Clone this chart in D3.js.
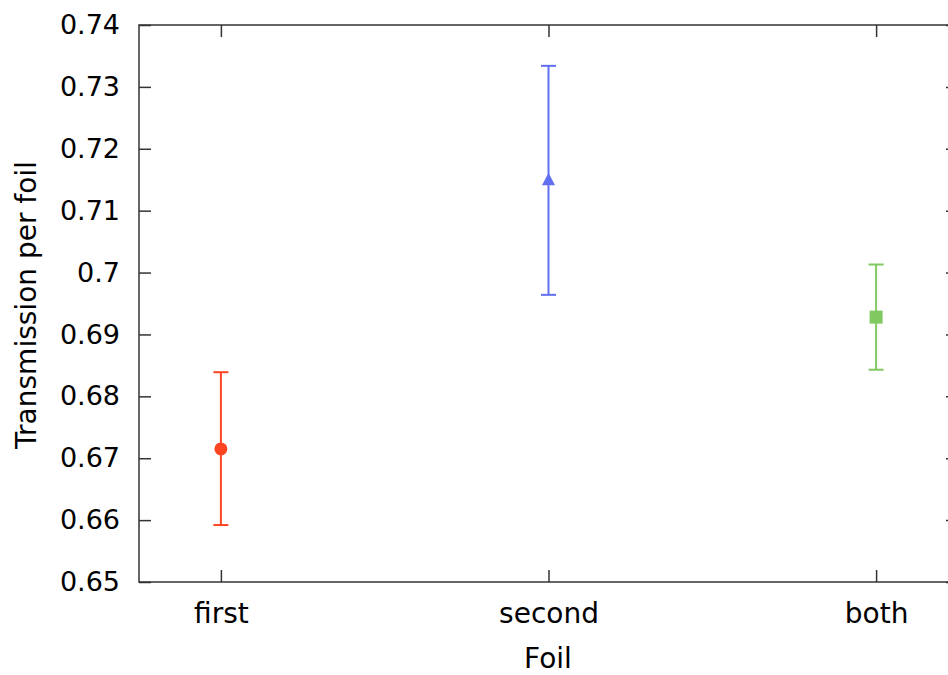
<!DOCTYPE html>
<html>
<head>
<meta charset="utf-8">
<script src="https://cdn.jsdelivr.net/npm/d3@7"></script>
<style>
  html, body { margin: 0; padding: 0; background: #fff; }
  svg text { font-family: "DejaVu Sans", sans-serif; fill: #000; }
</style>
</head>
<body>
<svg id="chart" width="948" height="675"></svg>
<script>
// Foil transmission measurements with error bars
const categories = ["first", "second", "both"];
const values = [0.6715, 0.7149, 0.6928];
const errLow = [0.6592, 0.6964, 0.6843];
const errHigh = [0.6839, 0.7334, 0.7013];
const colors = ["#ff4422", "#6070f0", "#80c860"];
const markers = ["circle", "triangle", "square"];
const yTicks = [0.65, 0.66, 0.67, 0.68, 0.69, 0.7, 0.71, 0.72, 0.73, 0.74];

const svg = d3.select("#chart");
const plotLeft = 139, plotTop = 25, plotBottom = 582, plotRight = 958;

const x = d3.scaleLinear().domain([-0.25, 2.25]).range([plotLeft, plotRight]);
const y = d3.scaleLinear().domain([0.65, 0.74]).range([plotBottom, plotTop]);

const axisColor = "#333";
const tickLen = 12;
const tickFont = 27;
const labelFont = 28;

// Frame
svg.append("rect").attr("x", plotLeft).attr("y", plotTop)
  .attr("width", plotRight - plotLeft).attr("height", plotBottom - plotTop)
  .attr("stroke", axisColor).attr("stroke-width", 1.5).attr("fill", "none");

// Y ticks (mirrored on both sides)
const yAxisL = d3.axisLeft(y).tickValues(yTicks).tickSize(-tickLen)
  .tickFormat(d => String(+d.toFixed(2)));
const gL = svg.append("g").attr("transform", `translate(${plotLeft},0)`).call(yAxisL);
gL.select(".domain").remove();
gL.selectAll(".tick line").attr("stroke", axisColor).attr("stroke-width", 1.5);
gL.selectAll(".tick text").attr("font-size", tickFont).attr("x", -19);

const gR = svg.append("g").attr("transform", `translate(${plotRight},0)`)
  .call(d3.axisRight(y).tickValues(yTicks).tickSize(-tickLen).tickFormat(""));
gR.select(".domain").remove();
gR.selectAll(".tick line").attr("stroke", axisColor).attr("stroke-width", 1.5);

// X ticks (mirrored top and bottom)
const xAxisB = d3.axisBottom(x).tickValues([0, 1, 2]).tickSize(-tickLen)
  .tickFormat(i => categories[i]);
const gB = svg.append("g").attr("transform", `translate(0,${plotBottom})`).call(xAxisB);
gB.select(".domain").remove();
gB.selectAll(".tick line").attr("stroke", axisColor).attr("stroke-width", 1.5);
gB.selectAll(".tick text").attr("font-size", labelFont).attr("y", 41).attr("dy", 0);

const gT = svg.append("g").attr("transform", `translate(0,${plotTop})`)
  .call(d3.axisTop(x).tickValues([0, 1, 2]).tickSize(-tickLen).tickFormat(""));
gT.select(".domain").remove();
gT.selectAll(".tick line").attr("stroke", axisColor).attr("stroke-width", 1.5);

// Axis titles
svg.append("text").attr("x", 548).attr("y", 668)
  .attr("text-anchor", "middle").attr("font-size", labelFont).text("Foil");
svg.append("text").attr("transform", "translate(36,305) rotate(-90)")
  .attr("text-anchor", "middle").attr("font-size", labelFont).text("Transmission per foil");

// Error bars and markers
const capHalf = 7.5;
const points = svg.append("g");
categories.forEach((c, i) => {
  const g = points.append("g").attr("stroke", colors[i]).attr("stroke-width", 2).attr("fill", colors[i]);
  const cx = x(i);
  g.append("line").attr("x1", cx).attr("x2", cx).attr("y1", y(errLow[i])).attr("y2", y(errHigh[i]));
  g.append("line").attr("x1", cx - capHalf).attr("x2", cx + capHalf).attr("y1", y(errLow[i])).attr("y2", y(errLow[i]));
  g.append("line").attr("x1", cx - capHalf).attr("x2", cx + capHalf).attr("y1", y(errHigh[i])).attr("y2", y(errHigh[i]));
  const cy = y(values[i]);
  if (markers[i] === "circle") {
    g.append("circle").attr("cx", cx).attr("cy", cy).attr("r", 6.5).attr("stroke", "none");
  } else if (markers[i] === "triangle") {
    g.append("path").attr("stroke", "none")
      .attr("d", `M${cx},${cy - 7.5}L${cx + 6.5},${cy + 5}L${cx - 6.5},${cy + 5}Z`);
  } else {
    g.append("rect").attr("stroke", "none").attr("x", cx - 6.5).attr("y", cy - 6.5).attr("width", 13).attr("height", 13);
  }
});
</script>
</body>
</html>
